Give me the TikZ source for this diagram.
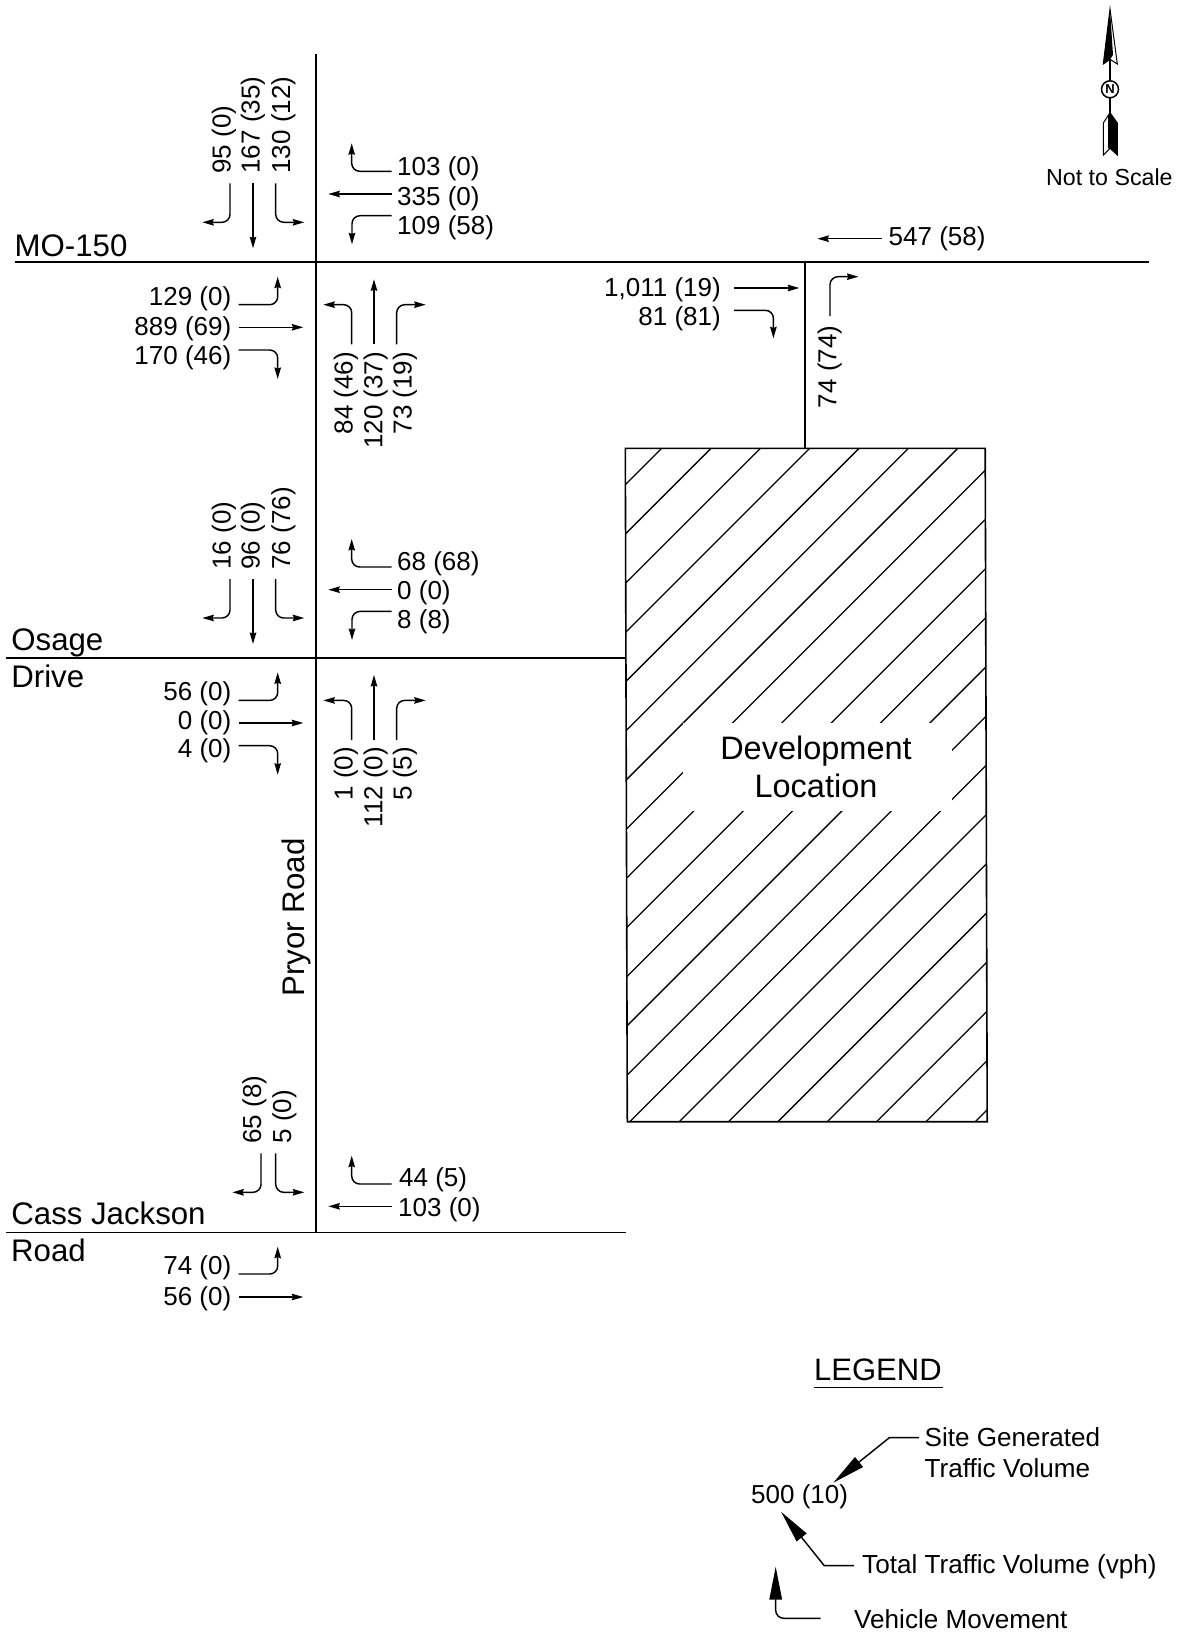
\documentclass[tikz,border=0pt]{standalone}
\usepackage{fontspec}
\setmainfont{Liberation Sans}
\usetikzlibrary{arrows.meta}
\tikzset{
  x=1pt,y=-1pt,
  road/.style={line width=1.6pt,black},
  mv/.style={line width=1.45pt,rounded corners=8pt,-{Stealth[length=11.5pt,width=6.5pt,inset=1.2pt]}},
  big/.style={line width=1.45pt,-{Triangle[length=33pt,width=12.5pt]}},
  bigr/.style={line width=1.45pt,rounded corners=8pt,-{Triangle[length=33pt,width=12.5pt]}},
  vol/.style={inner sep=0pt,font=\fontsize{26}{30}\selectfont},
  vr/.style={vol,anchor=base east},
  vl/.style={vol,anchor=base west},
  vup/.style={vol,anchor=base west,rotate=90},
  vdn/.style={vol,anchor=base east,rotate=90},
  rd/.style={inner sep=0pt,anchor=base west,font=\fontsize{31.2}{36}\selectfont},
  leg/.style={inner sep=0pt,anchor=base west,font=\fontsize{26.1}{30}\selectfont},
}
\newcommand{\SBleft}{\draw[mv] (230,183.3) -- (230,222.3) -- (202.3,222.3);}
\newcommand{\SBthru}{\draw[mv] (253,183.3) -- (253,248.3);}
\newcommand{\SBright}{\draw[mv] (275.7,183.3) -- (275.7,222.3) -- (304.3,222.3);}
\newcommand{\WBset}{%
  \draw[mv] (391.7,171.3) -- (351.7,171.3) -- (351.7,143.3);
  \draw[mv] (391.7,194) -- (328.3,194);
  \draw[mv] (391.7,215.7) -- (352,215.7) -- (352,244.3);}
\newcommand{\EBset}{%
  \draw[mv] (238.7,304.7) -- (277.7,304.7) -- (277.7,276.7);
  \draw[mv] (238.7,327.3) -- (303.3,327.3);
  \draw[mv] (238.7,350) -- (277.7,350) -- (277.7,379);}
\newcommand{\NBset}{%
  \draw[mv] (351.7,344.3) -- (351.7,304.7) -- (323.3,304.7);
  \draw[mv] (374,344.3) -- (374,279.3);
  \draw[mv] (396.7,344.3) -- (396.7,304.7) -- (425.7,304.7);}
\begin{document}
\begin{tikzpicture}
\useasboundingbox (0,0) rectangle (1186,1635);
% roads
\draw[road] (316,54) -- (316,1232.3);
\draw[road] (15,262) -- (1148.5,262);
\draw[road] (6,657.7) -- (625.8,657.7);
\draw[road] (6,1232.3) -- (626,1232.3);
\draw[road] (805,262) -- (805,448.3);
% site
\begin{scope}
  \clip (625.3,448.3) -- (985.2,448.3) -- (987.2,1121.7) -- (627.3,1121.7) -- cycle;
  \foreach \i in {0,...,20} {
    \pgfmathsetmacro{\s}{1110+49.35*\i}
    \draw[line width=1.3pt] ({\s-440},440) -- ({\s-1130},1130);
  }
  \fill[white] (682.7,723.3) rectangle (951.7,811);
\end{scope}
\draw[road] (625.3,448.3) -- (985.2,448.3) -- (987.2,1121.7) -- (627.3,1121.7) -- cycle;
\node[inner sep=0pt,anchor=base,font=\fontsize{32.5}{38}\selectfont] (devA) at (816,759.8) {Development};
\node[inner sep=0pt,anchor=base,font=\fontsize{32.5}{38}\selectfont] (devB) at (816,797.8) {Location};
% road names
\node[rd] (mo) at (14.5,256) {MO-150};
\node[rd] (osage) at (11.2,650) {Osage};
\node[rd] (drive) at (11.2,687.8) {Drive};
\node[rd] (cass) at (11.2,1224.5) {Cass Jackson};
\node[rd] (roadn) at (11,1261) {Road};
\node[rd,rotate=90] (pryor) at (304,996.5) {Pryor Road};
% MO-150 / Pryor
\SBleft \SBthru \SBright \WBset \EBset \NBset
\node[vup] (a1) at (230.7,173.7) {95 (0)};
\node[vup] (a2) at (259.7,173.7) {167 (35)};
\node[vup] (a3) at (290,173.7) {130 (12)};
\node[vl] (a4) at (397,175.7) {103 (0)};
\node[vl] (a5) at (397,205.3) {335 (0)};
\node[vl] (a6) at (397,234.5) {109 (58)};
\node[vr] (a7) at (231.5,305) {129 (0)};
\node[vr] (a8) at (231.5,335) {889 (69)};
\node[vr] (a9) at (231.5,364) {170 (46)};
\node[vdn] (a10) at (352.6,351.7) {84 (46)};
\node[vdn] (a11) at (382.3,351.7) {120 (37)};
\node[vdn] (a12) at (411.6,351.7) {73 (19)};
% Osage / Pryor
\begin{scope}[shift={(0,395.7)}]
  \SBleft \SBthru \SBright \WBset \EBset \NBset
\end{scope}
\node[vup] (b1) at (230.7,569.7) {16 (0)};
\node[vup] (b2) at (259.7,569.7) {96 (0)};
\node[vup] (b3) at (290,569.7) {76 (76)};
\node[vl] (b4) at (397,570) {68 (68)};
\node[vl] (b5) at (397,599) {0 (0)};
\node[vl] (b6) at (397,628) {8 (8)};
\node[vr] (b7) at (231.5,700.5) {56 (0)};
\node[vr] (b8) at (231.5,729) {0 (0)};
\node[vr] (b9) at (231.5,757.5) {4 (0)};
\node[vdn] (b10) at (352.6,746.7) {1 (0)};
\node[vdn] (b11) at (382.3,746.7) {112 (0)};
\node[vdn] (b12) at (411.6,746.7) {5 (5)};
% Cass Jackson / Pryor
\begin{scope}[shift={(0,970)}]
  \draw[mv] (261,183.3) -- (261,222.3) -- (232.3,222.3);
  \SBright
\end{scope}
\draw[mv] (391.7,1184) -- (351.7,1184) -- (351.7,1155.7);
\draw[mv] (391.7,1206.3) -- (328.3,1206.3);
\draw[mv] (238.7,1274) -- (277.7,1274) -- (277.7,1246.7);
\draw[mv] (238.7,1297) -- (303.3,1297);
\node[vup] (c1) at (261.2,1143.7) {65 (8)};
\node[vup] (c2) at (291,1143.7) {5 (0)};
\node[vl] (c3) at (399,1186) {44 (5)};
\node[vl] (c4) at (398,1216.7) {103 (0)};
\node[vr] (c5) at (231.5,1274.3) {74 (0)};
\node[vr] (c6) at (231.5,1305) {56 (0)};
% Site drive / MO-150
\draw[mv] (882,238.7) -- (817.3,238.7);
\draw[mv] (734,288) -- (799.3,288);
\draw[mv] (734,310.3) -- (773.4,310.3) -- (773.4,338.3);
\draw[mv] (830,316) -- (830,276.7) -- (858.5,276.7);
\node[vl] (d1) at (888.5,245) {547 (58)};
\node[vr] (d2) at (721,296) {1,011 (19)};
\node[vr] (d3) at (721,325) {81 (81)};
\node[vdn] (d4) at (836.3,325.5) {74 (74)};
% north arrow
\draw[line width=1.5pt] (1110,56) -- (1110,113);
\draw[line width=1pt,fill=white] (1110,9) -- (1117.3,64) -- (1110,59.3) -- (1103.3,64) -- cycle;
\fill (1110,9) -- (1113,55) -- (1110,59.3) -- (1103.3,64) -- cycle;
\draw[line width=1pt,fill=white] (1110,112.7) -- (1117.3,123) -- (1117.3,155) -- (1110,148.3) -- (1103.3,155) -- (1103.3,123) -- cycle;
\fill (1110,112.7) -- (1117.3,123) -- (1117.3,155) -- (1110,148.3) -- (1108,148.3) -- (1108,116) -- cycle;
\node[circle,draw,line width=1.5pt,fill=white,minimum size=17pt,inner sep=0pt,font=\fontsize{13}{13}\bfseries\selectfont] (northc) at (1110,89.3) {N};
\node[inner sep=0pt,anchor=base west,font=\fontsize{23.2}{27}\selectfont] (scale) at (1046,185) {Not to Scale};
% legend
\node[inner sep=0pt,anchor=base west,font=\fontsize{31}{36}\selectfont] (legend) at (814,1380) {LEGEND};
\draw[line width=1.5pt] (814,1387.7) -- (943,1387.7);
\node[leg] (l1) at (924.5,1446.5) {Site Generated};
\node[leg] (l2) at (924.5,1477.8) {Traffic Volume};
\node[vol,anchor=base west] (l3) at (751,1503.8) {500 (10)};
\node[leg] (l4) at (862,1573.5) {Total Traffic Volume (vph)};
\node[leg] (l5) at (854,1628.2) {Vehicle Movement};
\draw[big] (919,1437.7) -- (889.3,1437.7) -- (833.3,1482.7);
\draw[big] (854,1565.7) -- (824.3,1565.7) -- (781,1511.7);
\draw[bigr] (820.7,1618.3) -- (775.7,1618.3) -- (775.7,1566.7);
\end{tikzpicture}
\end{document}
